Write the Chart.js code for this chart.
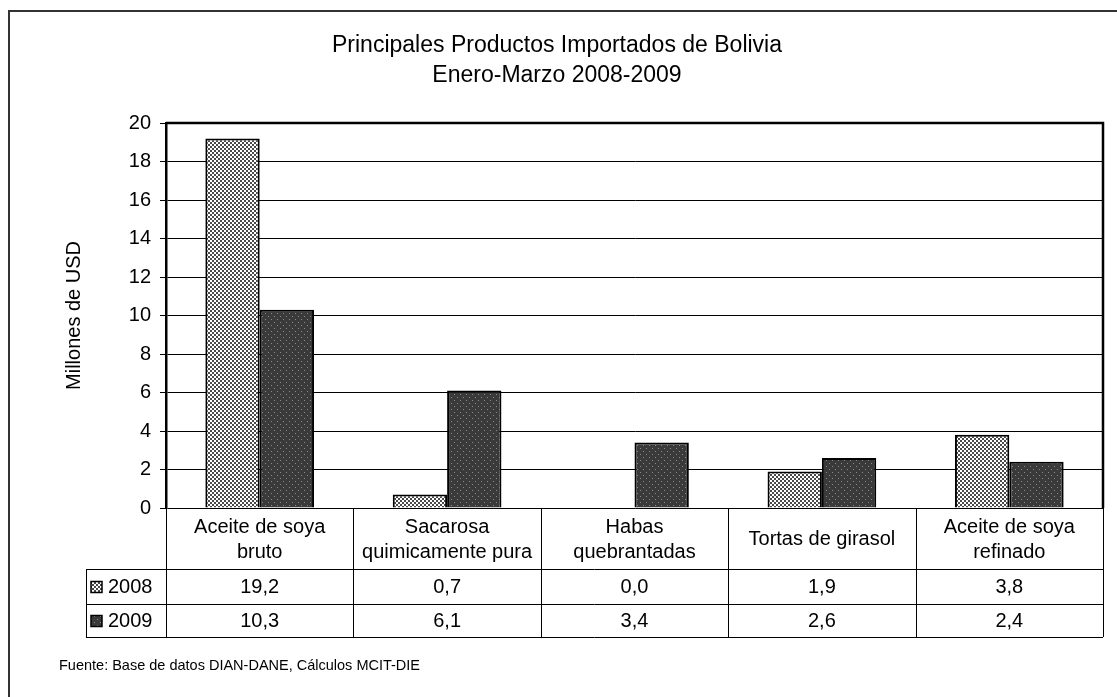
<!DOCTYPE html>
<html>
<head>
<meta charset="utf-8">
<script src="https://cdn.jsdelivr.net/npm/chart.js@4.4.1/dist/chart.umd.min.js"></script>
<style>
  html, body { margin: 0; padding: 0; background: #fff; }
  #wrap { width: 1117px; height: 697px; }
</style>
</head>
<body>
<div id="wrap"><canvas id="chart" width="1117" height="697"></canvas></div>
<script>
// data
const categories = [
    ["Aceite de soya", "bruto"],
    ["Sacarosa", "quimicamente pura"],
    ["Habas", "quebrantadas"],
    ["Tortas de girasol"],
    ["Aceite de soya", "refinado"]
];
const seriesNames = ["2008", "2009"];
const values2008 = [19.2, 0.7, 0.0, 1.9, 3.8];
const values2009 = [10.3, 6.1, 3.4, 2.6, 2.4];
const yTicks = [0, 2, 4, 6, 8, 10, 12, 14, 16, 18, 20];

const FONT = "'Liberation Sans', Arial, sans-serif";

// fill patterns like the old excel ones
function checkerPattern() {
    const c = document.createElement("canvas");
    c.width = 4; c.height = 4;
    const g = c.getContext("2d");
    g.fillStyle = "#ffffff";
    g.fillRect(0, 0, 4, 4);
    g.fillStyle = "#4a4a4a";
    g.fillRect(0, 0, 2, 2);
    g.fillRect(2, 2, 2, 2);
    return g.createPattern(c, "repeat");
}

function dotPattern() {
    const c = document.createElement("canvas");
    c.width = 6; c.height = 6;
    const g = c.getContext("2d");
    g.fillStyle = "#3a3a3a";
    g.fillRect(0, 0, 6, 6);
    g.fillStyle = "#8c8c8c";
    g.fillRect(1, 1, 1, 1);
    g.fillRect(4, 4, 1, 1);
    return g.createPattern(c, "repeat");
}

const fills = [checkerPattern(), dotPattern()];
const allValues = [values2008, values2009];

const fmt = v => v.toFixed(1).replace(".", ",");

// titles, frame, data table and footer
const decorPlugin = {
    id: "decor",
    afterDraw(chart) {
        const ctx = chart.ctx;
        const area = chart.chartArea;
        const x = chart.scales.x;
        ctx.save();

        // outer frame (runs off the page on right/bottom)
        ctx.strokeStyle = "#333";
        ctx.lineWidth = 2;
        ctx.strokeRect(9, 11, 1200, 800);

        // titles
        ctx.fillStyle = "#000";
        ctx.font = "23px " + FONT;
        ctx.textAlign = "center";
        ctx.textBaseline = "middle";
        ctx.fillText("Principales Productos Importados de Bolivia", 557, 46);
        ctx.fillText("Enero-Marzo 2008-2009", 557, 76);

        // plot frame top/right
        ctx.strokeStyle = "#000";
        ctx.lineWidth = 2.5;
        ctx.beginPath();
        ctx.moveTo(area.left, area.top);
        ctx.lineTo(area.right, area.top);
        ctx.lineTo(area.right, area.bottom);
        ctx.stroke();

        // data table
        const rowTop = area.bottom;
        const r1 = 569, r2 = 604, r3 = 637;
        const legLeft = 86;
        const step = (area.right - area.left) / categories.length;

        ctx.lineWidth = 1;
        ctx.strokeStyle = "#000";
        ctx.beginPath();
        [r1, r2, r3].forEach(yy => {
            ctx.moveTo(legLeft, yy + 0.5);
            ctx.lineTo(area.right, yy + 0.5);
        });
        ctx.moveTo(legLeft + 0.5, r1);
        ctx.lineTo(legLeft + 0.5, r3);
        for (let i = 0; i <= categories.length; i++) {
            const xx = Math.round(area.left + step * i) + 0.5;
            ctx.moveTo(xx, rowTop);
            ctx.lineTo(xx, r3);
        }
        ctx.stroke();

        ctx.font = "20px " + FONT;
        ctx.fillStyle = "#000";
        ctx.textAlign = "center";
        categories.forEach((lines, i) => {
            const cx = x.getPixelForValue(i);
            const mid = (rowTop + r1) / 2 + 1;
            const lh = 25;
            lines.forEach((ln, j) => {
                ctx.fillText(ln, cx, mid + (j - (lines.length - 1) / 2) * lh);
            });
            ctx.fillText(fmt(values2008[i]), cx, (r1 + r2) / 2 + 1);
            ctx.fillText(fmt(values2009[i]), cx, (r2 + r3) / 2 + 1);
        });

        // legend keys in table
        const rows = [[r1, r2], [r2, r3]];
        rows.forEach((r, k) => {
            const cy = (r[0] + r[1]) / 2;
            ctx.fillStyle = fills[k];
            ctx.fillRect(91, cy - 5, 11, 11);
            ctx.strokeStyle = "#000";
            ctx.lineWidth = 1.5;
            ctx.strokeRect(91, cy - 5, 11, 11);
            ctx.fillStyle = "#000";
            ctx.textAlign = "left";
            ctx.fillText(seriesNames[k], 108, cy + 1);
        });

        // footer
        ctx.font = "14.5px " + FONT;
        ctx.textAlign = "left";
        ctx.fillText("Fuente: Base de datos DIAN-DANE, Cálculos MCIT-DIE", 59, 666);

        ctx.restore();
    }
};

new Chart(document.getElementById("chart"), {
    type: "bar",
    data: {
        labels: categories.map(c => c.join(" ")),
        datasets: seriesNames.map((name, k) => ({
            label: name,
            data: allValues[k],
            backgroundColor: fills[k],
            borderColor: "#000",
            borderWidth: 2,
            categoryPercentage: 0.58,
            barPercentage: 1.0
        }))
    },
    options: {
        responsive: false,
        animation: false,
        devicePixelRatio: 1,
        layout: { padding: { top: 123, right: 14, bottom: 189, left: 0 } },
        plugins: {
            legend: { display: false },
            tooltip: { enabled: false },
            title: { display: false }
        },
        scales: {
            x: { display: false },
            y: {
                min: 0,
                max: 20,
                afterBuildTicks: axis => { axis.ticks = yTicks.map(v => ({ value: v })); },
                afterFit: axis => { axis.width = 166; },
                ticks: {
                    color: "#000",
                    padding: 9,
                    font: { family: FONT, size: 20 }
                },
                grid: {
                    color: "#000",
                    lineWidth: 1,
                    tickLength: 6,
                    drawOnChartArea: true
                },
                border: { color: "#000", width: 2.5 },
                title: {
                    display: true,
                    text: "Millones de USD",
                    color: "#000",
                    font: { family: FONT, size: 20 },
                    padding: { top: 62, bottom: 0 }
                }
            }
        }
    },
    plugins: [decorPlugin]
});
</script>
</body>
</html>
